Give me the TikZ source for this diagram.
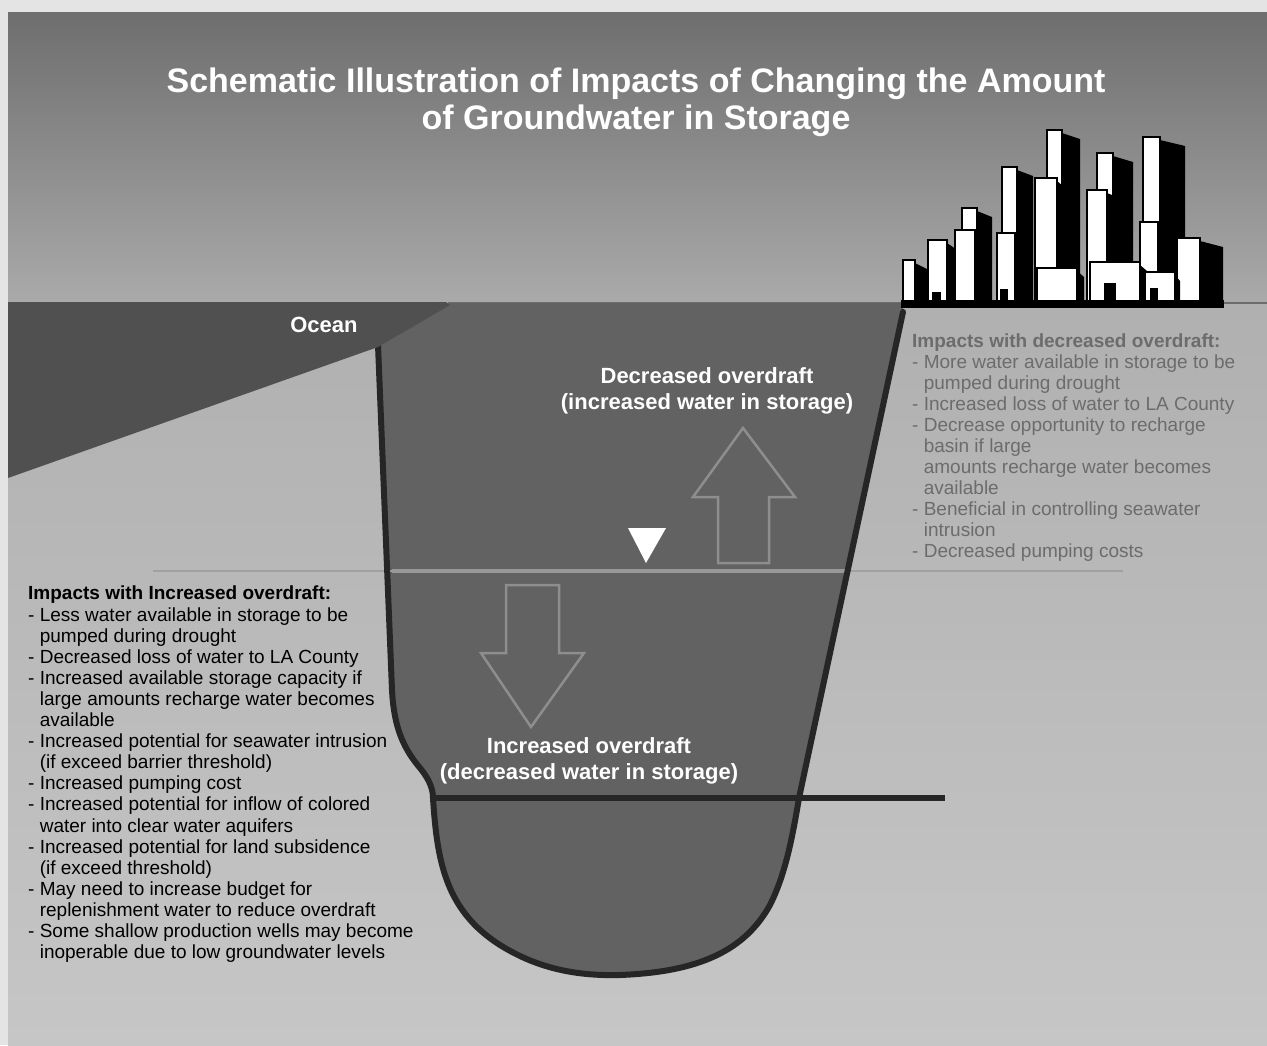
\documentclass[tikz,border=0pt]{standalone}
\usepackage{fontspec}
\setmainfont{Liberation Sans}
\usepackage{tikz}
\usetikzlibrary{calc}

\definecolor{framewhite}{RGB}{228,228,228}
\definecolor{skytop}{RGB}{110,110,110}
\definecolor{skybot}{RGB}{170,170,170}
\definecolor{groundtop}{RGB}{176,176,176}
\definecolor{groundbot}{RGB}{198,198,198}
\definecolor{basinfill}{RGB}{98,98,98}
\definecolor{oceanfill}{RGB}{80,80,80}
\definecolor{wallline}{RGB}{38,38,38}
\definecolor{tableline}{RGB}{152,152,152}
\definecolor{tablefaint}{RGB}{160,160,160}
\definecolor{arrowline}{RGB}{142,142,142}
\definecolor{greytext}{RGB}{108,108,108}

\begin{document}
\begin{tikzpicture}[x=1pt, y=-1pt,
  wall/.style={draw=wallline, line width=6pt, line join=round, line cap=round},
  hollowarrow/.style={draw=arrowline, line width=2.5pt, line join=miter},
  whitelabel/.style={text=white, font=\bfseries\fontsize{22}{26}\selectfont, align=center, inner sep=0},
  listtext/.style={font=\fontsize{19}{21.1}\selectfont, align=left, inner sep=0, anchor=north west},
  building/.style={fill=white, draw=black, line width=1.5pt}]
\useasboundingbox (0,0) rectangle (1267,1045);
\pgfmathsetmacro{\yGround}{303}
\pgfmathsetmacro{\yTable}{571}
\pgfmathsetmacro{\yDrawdown}{798}

% Sky and ground
\fill[framewhite] (0,0) rectangle (1267,1045);
\fill[top color=skytop, bottom color=skybot] (8,12) rectangle (1267,\yGround);
\fill[top color=groundtop, bottom color=groundbot] (8,\yGround) rectangle (1267,1045);
\draw[gray!85!black, line width=2.5pt] (448,\yGround) -- (1267,\yGround); % land surface

% Basin fill (top part is hidden under the ocean)
\fill[basinfill] (378,345) -- (392,690) .. controls (394,730) and (405,750) .. (420,768)
  .. controls (430,780) and (433,790) .. (433,\yDrawdown)
  .. controls (437,860) and (445,910) .. (500,945)
  .. controls (540,970) and (580,976) .. (620,975)
  .. controls (700,972) and (745,950) .. (770,905)
  .. controls (785,875) and (792,840) .. (799,\yDrawdown)
  -- (903,312) -- (903,\yGround) -- (448,\yGround) -- cycle;

% Water table, faint outside the basin
\draw[tablefaint, line width=2.5pt] (153,\yTable) -- (1123,\yTable);
\draw[tableline, line width=4pt] (392,\yTable) -- (848,\yTable);
\fill[white] (628,528) -- (666,528) -- (646,563) -- cycle; % water table mark

% Rise and fall arrows
\draw[hollowarrow] (718,563) -- (718,497) -- (693,497) -- (743,428) -- (795,497) -- (769,497) -- (769,563) -- cycle;
\draw[hollowarrow] (506,585) -- (506,653) -- (481,653) -- (531,727) -- (584,653) -- (559,653) -- (559,585) -- cycle;

% Lowered level
\draw[wallline, line width=6pt] (433,\yDrawdown) -- (945,\yDrawdown);

% Basin walls
\draw[wall] (378,345) -- (392,690) .. controls (394,730) and (405,750) .. (420,768)
  .. controls (430,780) and (433,790) .. (433,\yDrawdown)
  .. controls (437,860) and (445,910) .. (500,945)
  .. controls (540,970) and (580,976) .. (620,975)
  .. controls (700,972) and (745,950) .. (770,905)
  .. controls (785,875) and (792,840) .. (799,\yDrawdown)
  -- (903,312);

% Ocean wedge
\fill[oceanfill] (8,302) -- (446,302) -- (450,305) -- (378,347) -- (8,478) -- cycle;
\node[text=white, font=\bfseries\fontsize{22}{26}\selectfont, inner sep=0] (ocean) at (324,325) {Ocean};

% Labels in the basin
\node[whitelabel] (decLabel) at (707,391) {Decreased overdraft\\(increased water in storage)};
\node[whitelabel] (incLabel) at (589,761) {Increased overdraft\\(decreased water in storage)};

% Title
\node[text=white, font=\bfseries\fontsize{34}{37}\selectfont, align=center, inner sep=0, anchor=north] (title) at (636,68)
  {Schematic Illustration of Impacts of Changing the Amount\\of Groundwater in Storage};

% Impact lists
\node[listtext] (incList) at (28,586) {%
\textbf{Impacts with Increased overdraft:}\\
- Less water available in storage to be\\
\phantom{- }pumped during drought\\
- Decreased loss of water to LA County\\
- Increased available storage capacity if\\
\phantom{- }large amounts recharge water becomes\\
\phantom{- }available\\
- Increased potential for seawater intrusion\\
\phantom{- }(if exceed barrier threshold)\\
- Increased pumping cost\\
- Increased potential for inflow of colored\\
\phantom{- }water into clear water aquifers\\
- Increased potential for land subsidence\\
\phantom{- }(if exceed threshold)\\
- May need to increase budget for\\
\phantom{- }replenishment water to reduce overdraft\\
- Some shallow production wells may become\\
\phantom{- }inoperable due to low groundwater levels};
\node[listtext, text=greytext, font=\fontsize{19}{21}\selectfont] (decList) at (912,334) {%
\textbf{Impacts with decreased overdraft:}\\
- More water available in storage to be\\
\phantom{- }pumped during drought\\
- Increased loss of water to LA County\\
- Decrease opportunity to recharge\\
\phantom{- }basin if large\\
\phantom{- }amounts recharge water becomes\\
\phantom{- }available\\
- Beneficial in controlling seawater\\
\phantom{- }intrusion\\
- Decreased pumping costs};

% City skyline: towers behind, then mid blocks, then low blocks in front
\foreach \xl/\xr/\yt/\xs in {962/977/208/992, 1002/1017/167/1033, 1047/1062/130/1080, 1097/1113/153/1133, 1143/1160/137/1185,
    903/915/260/927, 928/947/240/956, 955/975/230/987, 997/1015/233/1029, 1035/1057/178/1064, 1087/1107/190/1122, 1140/1158/222/1170, 1177/1200/238/1223,
    1037/1077/268/1084, 1090/1140/262/1147, 1145/1175/272/1180} {
  \fill[black] (\xr,\yt+3) -- (\xs,\yt+9) -- (\xs,305) -- (\xr,305) -- cycle;
  \draw[building] (\xl,\yt) rectangle (\xr,305);
}
\fill[black] (901,300) rectangle (1224,308); % street level
\fill[black] (932,292) rectangle (941,305);
\fill[black] (1104,283) rectangle (1116,305);
\fill[black] (1000,289) rectangle (1008,305);
\fill[black] (1150,288) rectangle (1158,305);
\end{tikzpicture}
\end{document}
